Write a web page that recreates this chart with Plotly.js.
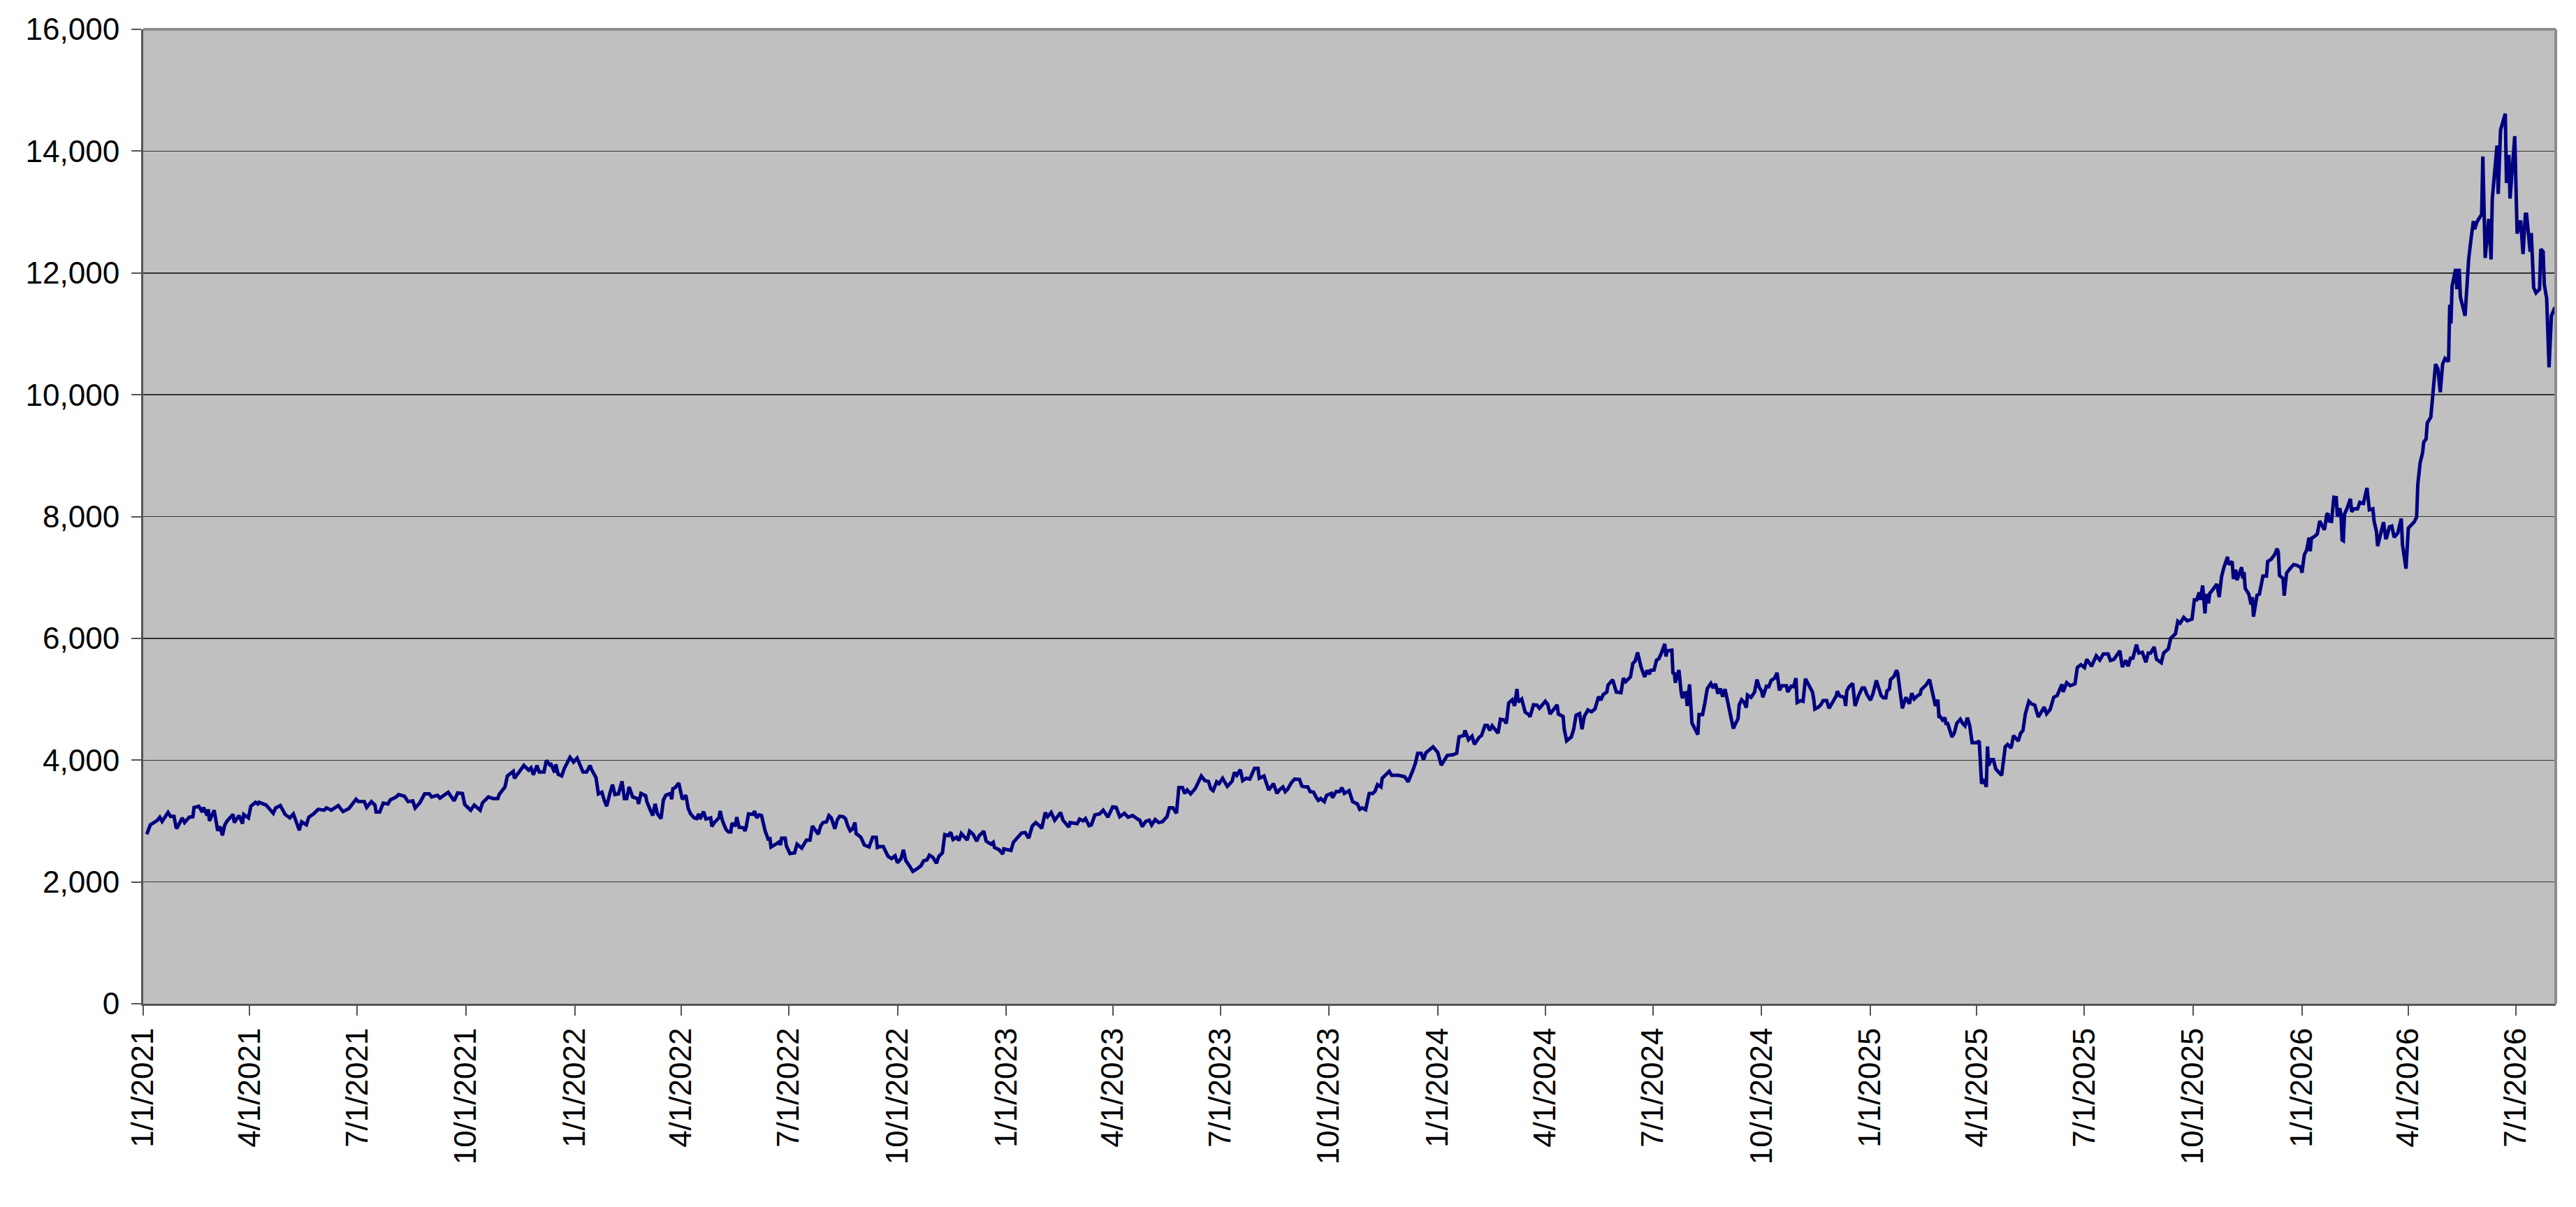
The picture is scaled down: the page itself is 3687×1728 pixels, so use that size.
<!DOCTYPE html>
<html>
<head>
<meta charset="utf-8">
<script src="https://cdn.plot.ly/plotly-3.0.1.min.js"></script>
<style>
  html, body { margin: 0; padding: 0; background: #ffffff; }
  #chart { width: 3687px; height: 1728px; }
</style>
</head>
<body>
<div id="chart"></div>
<script>
// values, day offsets counted from 1 January of each year
var days2021 = [3,6,12,14,16,21,23,26,28,29, 33,35,39,42,43,47,50,51,54,55,
  56,60,63,65,67,69,71,76,77,81, 84,85,89,91,95,97,98,104,110,112,
  116,120,124,127,130,132,134,138,140,144, 148,153,155,159,165,169,174,180,182,187,
  189,193,196,197,200,203,207,209,214,216, 221,224,228,230,234,238,242,244,249,251,
  258,263,266,270,272,277,280,285,287,292, 296,300,301,306,308,313,314,318,322,326,
  328,330,333,335,339,341,344,345,348,349, 351,354,356,361,364];
var vals2021 = [2784,2937,3013,3063,2994,3140,3078,3078,2880,2899, 3052,2975,3063,3071,3224,3243,3147,3224,3090,3193,
  3002,3178,2841,2910,2765,2937,3002,3109,2975,3090, 2956,3109,3052,3243,3308,3281,3308,3262,3128,3216,
  3254,3109,3052,3117,2956,2849,2987,2937,3063,3117, 3193,3178,3216,3178,3254,3155,3205,3358,3319,3319,
  3224,3319,3262,3147,3147,3293,3281,3346,3396,3434, 3407,3319,3331,3216,3300,3446,3446,3396,3423,3377,
  3472,3331,3461,3453,3270,3178,3262,3178,3300,3396, 3369,3369,3434,3560,3740,3816,3702,3797,3912,3836,
  3874,3759,3912,3805,3805,3996,3920,3931,3797,3931, 3767,3740,3855,4046,3969];

var days2022 = [2,5,7,10,13,14,18,20,23,25, 27,30,32,34,37,40,42,44,46,49,
  53,54,56,60,61,64,66,68,70,73, 75,77,81,82,83,85,88,91,94,96,
  98,101,103,105,106,109,111,115,116,118, 122,123,125,128,130,132,133,136,137,139,
  143,144,145,147,151,152,154,156,158,161, 164,165,166,171,173,174,175,178,179,182,
  186,188,192,196,199,201,203,206,208,210, 213,215,217,220,222,224,227,229,231,233,
  235,237,238,242,245,249,252,255,256,258, 261,265,268,271,273,276,278,280,283,286,
  290,293,295,298,300,303,306,308,311,313, 316,318,320,323,325,327,332,334,337,340,
  342,346,348,352,354,355,359,362,363];
var vals2022 = [4034,3881,3805,3805,3912,3855,3713,3446,3472,3338, 3243,3472,3598,3434,3446,3652,3369,3369,3560,3396,
  3369,3281,3453,3415,3319,3178,3090,3281,3117,3040, 3346,3423,3453,3358,3530,3549,3625,3358,3423,3205,
  3117,3052,3040,3117,3033,3155,3033,3052,2910,2975, 3052,3166,3002,2860,2822,2822,2964,2918,3063,2899,
  2887,2834,2899,3117,3109,3166,3052,3101,3090,2841, 2681,2734,2574,2631,2658,2605,2719,2719,2593,2467,
  2478,2620,2555,2688,2688,2918,2861,2784,2918,2975, 2987,3090,3052,2872,3013,3078,3071,3040,2918,2841,
  2872,2975,2795,2734,2605,2574,2734,2734,2566,2582, 2582,2421,2383,2429,2314,2383,2528,2352,2268,2172,
  2222,2268,2344,2364,2440,2402,2306,2421,2478,2776, 2761,2815,2696,2734,2681,2795,2688,2834,2784,2669,
  2757,2834,2669,2620,2650,2566,2528,2459,2543];

var days2023 = [1,4,6,9,13,16,19,22,25,28, 30,33,35,38,41,46,48,53,54,60,
  62,65,67,70,72,75,79,82,86,90, 93,96,100,103,107,111,113,115,118,121,
  123,126,129,132,136,138,141,144,146,149, 151,153,156,160,165,168,171,173,175,178,
  180,183,187,191,193,195,198,200,203,206, 208,210,213,214,218,221,222,226,229,231,
  234,236,238,241,244,248,250,252,255,257, 260,262,264,266,269,271,275,276,279,282,
  284,286,290,293,297,299,301,304,307,310, 312,314,317,318,321,324,326,332,337,340,
  344,346,348,351,353,355,361];
var vals2023 = [2535,2516,2650,2707,2803,2811,2719,2918,2975,2925, 2880,3140,3071,3140,3013,3140,3013,2899,2975,2956,
  3033,3002,3040,2925,2937,3101,3117,3178,3063,3231, 3224,3071,3128,3063,3090,3033,3013,2910,2994,3013,
  2937,3025,2975,2987,3071,3216,3216,3128,3549,3549, 3453,3510,3446,3537,3740,3663,3652,3530,3499,3644,
  3614,3702,3568,3652,3797,3751,3843,3663,3702,3690, 3778,3866,3866,3702,3740,3587,3511,3614,3453,3511,
  3560,3484,3522,3625,3690,3683,3576,3560,3560,3484, 3472,3396,3338,3369,3319,3423,3453,3384,3484,3484,
  3549,3453,3499,3319,3281,3193,3216,3186,3453,3453, 3491,3598,3560,3702,3759,3816,3751,3751,3728,3644,
  3836,3943,4111,4111,4008,4122,4218];

var days2024 = [0,3,8,13,16,18,22,23,26,29, 31,35,37,40,42,44,46,51,53,56,
  58,60,63,65,67,68,71,74,77,78, 81,84,86,91,93,95,98,101,102,106,
  107,109,113,115,117,120,122,124,127,130, 133,136,138,140,143,144,148,151,155,157,
  159,163,165,167,169,172,175,177,179,180, 183,185,187,189,192,193,194,198,199,200,
  201,202,204,206,207,208,210,211,213,215, 217,220,221,224,226,228,231,233,235,237,
  239,241,243,247,248,250,252,254,255,257, 259,261,262,265,268,270,272,274,275,278,
  280,282,285,287,289,291,295,296,299,301, 303,304,307,309,311,314,317,318,319,322,
  324,326,329,331,334,337,338,340,344,345, 346,348,351,352,353,356,359,361,363];
var vals2024 = [4126,3916,4076,4088,4114,4382,4404,4488,4336,4393, 4259,4374,4404,4572,4572,4488,4565,4443,4672,4660,
  4603,4939,4992,4889,5168,4954,5004,4786,4748,4710, 4908,4901,4851,4966,4916,4756,4824,4908,4756,4718,
  4508,4317,4382,4508,4737,4763,4508,4718,4824,4794, 4840,5042,4985,5080,5118,5233,5321,5118,5107,5347,
  5290,5366,5588,5626,5767,5527,5366,5473,5412,5473, 5481,5641,5664,5748,5908,5702,5794,5805,5412,5443,
  5271,5347,5481,5099,5015,5099,5107,4889,5244,4611, 4527,4420,4748,4748,4947,5176,5260,5183,5252,5092,
  5176,5042,5168,4775,4748,4519,4603,4679,4908,4992, 4954,4863,5069,5031,5118,5321,5195,5130,5031,5214,
  5206,5309,5347,5435,5145,5221,5221,5118,5214,5206, 5347,4947,4977,4966,5336,5214,5118,5004,4840,4870,
  4908,4977,4977,4851,4954,5053,5130,5053,5031,4889, 5137,5206,5260,5023,4889,5061,5183,5183,5080];

var days2025 = [0,2,5,9,11,13,14,16,17,20, 22,23,25,27,30,33,35,37,40,42,
  43,47,50,52,54,55,57,58,59,61, 63,64,65,67,69,71,73,76,78,80,
  82,84,86,90,92,94,96,98,99,100, 102,104,106,111,112,114,116,119,121,125,
  127,129,131,134,136,139,142,146,147,149, 152,155,158,160,162,163,166,169,173,175,
  178,181,183,187,191,194,197,201,203,206, 211,213,216,218,220,222,225,227,230,233,
  235,237,240,242,246,248,252,254,258,260, 262,265,268,272,274,276,278,279,281,283,
  284,286,287,289,293,295,297,299,302,303, 306,307,309,310,312,314,315,316,317,320,
  322,323,324,327,329,331,332,335,336,339, 342,344,345,346,349,350,352,355,358,361,
  364];
var vals2025 = [4985,5081,5310,5061,5023,5023,5138,5169,5322,5376, 5475,5437,5138,4851,5031,4927,5100,5004,5061,5081,
  5157,5234,5322,5138,5023,4889,4992,4697,4716,4659, 4697,4582,4621,4487,4380,4449,4602,4671,4602,4563,
  4697,4563,4288,4288,4314,3613,3690,3560,4226,3912, 4008,4008,3855,3751,3912,4219,4257,4199,4402,4314,
  4441,4487,4755,4966,4927,4901,4709,4851,4870,4763, 4832,5031,5061,5157,5245,5119,5272,5222,5253,5521,
  5567,5521,5655,5541,5713,5644,5744,5744,5637,5656, 5797,5530,5637,5541,5675,5675,5897,5759,5771,5606,
  5759,5759,5859,5656,5599,5759,5828,6000,6077,6279, 6249,6344,6287,6317,6631,6631,6753,6631,6868,6409,
  6727,6574,6738,6784,6891,6677,7013,7166,7338,7212, 7262,6975,7128,6956,7071,7166,6983,7090,6822,6727,
  6555,6677,6356,6707,6727,6975,7021,7021,7262,7300, 7377,7472,7415,7033,6983,6700,7071,7147,7212,7197,
  7166];

var days2026 = [0,2,4,6,7,8,11,13,15,17, 19,21,22,23,25,27,29,30,32,33,
  34,35,36,38,41,42,44,47,49,52, 53,55,57,60,61,63,64,67,69,71,
  72,74,76,78,81,84,85,88,90,95, 97,98,100,102,103,105,106,109,111,113,
  115,117,119,121,124,125,126,127,130,131, 133,134,138,140,141,143,145,146,148,152,
  153,155,158,160,161,165,166,168,172,173, 175,176,180,182,185,187,189,190,193,194,
  196,198,201,202,204,205,207,209,211,214];
var vals2026 = [7078,7373,7449,7652,7430,7641,7679,7717,7927,7843, 7782,8034,8050,7927,7920,8317,8310,7996,8138,8034,
  7614,7602,8042,8126,8291,8080,8126,8126,8233,8214, 8291,8470,8111,8126,7927,7755,7514,7774,7908,7629,
  7679,7832,7843,7660,7728,7966,7545,7144,7810,7913, 7990,8528,8887,9041,9221,9272,9539,9631,10016,10503,
  10426,10041,10503,10595,10544,11477,11169,11785,12067,11733, 12067,11605,11297,11877,12221,12554,12851,12718,12836,12964,
  13913,12246,12887,12221,13221,14092,13297,14349,14615,13477, 13938,13221,14246,12646,12862,12308,12964,12964,12349,12656,
  11759,11672,11733,12390,12349,11810,11579,10451,11297,11436];

var tickDates = ['2021-01-01','2021-04-01','2021-07-01','2021-10-01',
  '2022-01-01','2022-04-01','2022-07-01','2022-10-01',
  '2023-01-01','2023-04-01','2023-07-01','2023-10-01',
  '2024-01-01','2024-04-01','2024-07-01','2024-10-01',
  '2025-01-01','2025-04-01','2025-07-01','2025-10-01',
  '2026-01-01','2026-04-01','2026-07-01'];
var tickLabels = ['1/1/2021','4/1/2021','7/1/2021','10/1/2021',
  '1/1/2022','4/1/2022','7/1/2022','10/1/2022',
  '1/1/2023','4/1/2023','7/1/2023','10/1/2023',
  '1/1/2024','4/1/2024','7/1/2024','10/1/2024',
  '1/1/2025','4/1/2025','7/1/2025','10/1/2025',
  '1/1/2026','4/1/2026','7/1/2026'];

var years = [
  [2021, days2021, vals2021],
  [2022, days2022, vals2022],
  [2023, days2023, vals2023],
  [2024, days2024, vals2024],
  [2025, days2025, vals2025],
  [2026, days2026, vals2026]
];

function dayToDate(year, d) {
  return new Date(Date.UTC(year, 0, 1 + d)).toISOString().slice(0, 10);
}

var x = [];
var y = [];
years.forEach(function (yr) {
  var n = Math.min(yr[1].length, yr[2].length);
  if (yr[1].length != yr[2].length) console.log('length mismatch', yr[0], yr[1].length, yr[2].length);
  for (var i = 0; i < n; i++) {
    x.push(dayToDate(yr[0], yr[1][i]));
    y.push(yr[2][i]);
  }
});

var tickFont = { family: 'Liberation Sans, Arial, sans-serif', size: 44, color: '#000000' };

var trace = {
  x: x, y: y,
  mode: 'lines',
  type: 'scatter',
  line: { color: '#000080', width: 5 },
  hoverinfo: 'skip'
};

var layout = {
  width: 3687,
  height: 1728,
  margin: { l: 205, r: 29, t: 42, b: 291 },
  paper_bgcolor: '#ffffff',
  plot_bgcolor: '#C0C0C0',
  showlegend: false,
  font: tickFont,
  xaxis: {
    type: 'date',
    range: ['2021-01-01', '2026-08-03 16:00'],
    tickmode: 'array',
    tickvals: tickDates,
    ticktext: tickLabels,
    tickangle: -90,
    ticks: 'outside',
    ticklen: 14,
    tickwidth: 2,
    tickcolor: '#555555',
    showgrid: false,
    zeroline: false,
    showline: true,
    linecolor: '#555555',
    linewidth: 3,
    tickfont: tickFont
  },
  yaxis: {
    range: [0, 16000],
    tick0: 0,
    dtick: 2000,
    tickformat: ',d',
    ticks: 'outside',
    ticklen: 14,
    tickwidth: 2,
    tickcolor: '#555555',
    ticklabelstandoff: 8,
    showgrid: true,
    gridcolor: '#333333',
    gridwidth: 1.5,
    zeroline: false,
    showline: true,
    linecolor: '#555555',
    linewidth: 3,
    tickfont: tickFont
  },
  shapes: [
    { type: 'line', xref: 'paper', yref: 'paper', x0: 0, x1: 1, y0: 1, y1: 1,
      line: { color: '#8C8C8C', width: 4 } },
    { type: 'line', xref: 'paper', yref: 'paper', x0: 1, x1: 1, y0: 0, y1: 1,
      line: { color: '#8C8C8C', width: 4 } }
  ]
};

Plotly.newPlot('chart', [trace], layout, { displayModeBar: false, staticPlot: true });
</script>
</body>
</html>
